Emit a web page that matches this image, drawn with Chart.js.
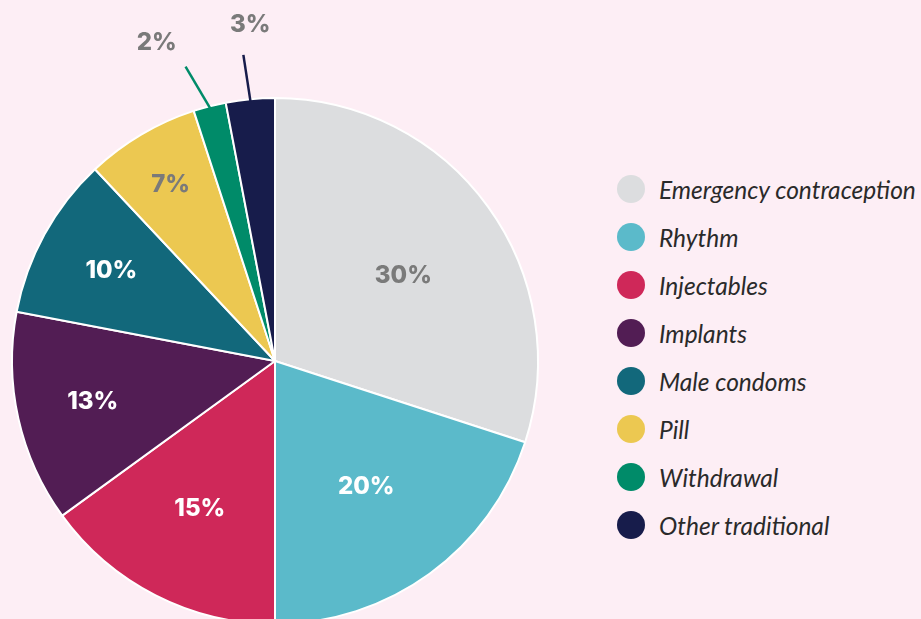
<!DOCTYPE html>
<html><head><meta charset="utf-8">
<script src="https://cdn.jsdelivr.net/npm/chart.js@4/dist/chart.umd.min.js"></script>
<style>
html,body{margin:0;padding:0;background:#fdeef5;overflow:hidden;}
#wrap{position:relative;width:921px;height:619px;overflow:hidden;background:#fdeef5;}
#cbox{position:absolute;left:1px;top:0;width:548px;height:722px;}
#legend{position:absolute;left:617px;top:165px;font-family:Lato,"Open Sans",sans-serif;font-style:italic;font-size:24.5px;color:#2a2a2a;}
#legend .row{height:48px;display:flex;align-items:center;white-space:nowrap;}
#legend .dot{width:28px;height:28px;border-radius:50%;margin-right:14px;flex:none;}
</style></head>
<body><div id="wrap"><div id="cbox"><canvas id="c"></canvas></div><div id="legend"></div></div>
<script>
const categories = ["Emergency contraception","Rhythm","Injectables","Implants","Male condoms","Pill","Withdrawal","Other traditional"];
const shares = [30,20,15,13,10,7,2,3];
const valueLabels = ["30%","20%","15%","13%","10%","7%","2%","3%"];

const colors = ["#dcdddf","#5bbaca","#cf2859","#521d54","#12687b","#ecc851","#008b69","#171c4b"];
const labelColors = ["#7a7a7a","#ffffff","#ffffff","#ffffff","#ffffff","#7a7a7a","#7a7a7a","#7a7a7a"];
const labelRadius = [0.585,0.59,0.63,0.71,0.71,0.78,1.29,1.28];
const labelAngleShift = [2.5,0,0,0,0,0,-6,1.2];
const lineAngleShift = [0,0,0,0,0,0,-2.5,-0.5];
const outside = [false,false,false,false,false,false,true,true];

const lg = document.getElementById('legend');
categories.forEach((c,i)=>{
  const r=document.createElement('div');r.className='row';
  const d=document.createElement('span');d.className='dot';d.style.background=colors[i];
  const t=document.createElement('span');t.textContent=c;
  r.appendChild(d);r.appendChild(t);lg.appendChild(r);
});

const labelPlugin = {
  id:'sliceLabels',
  afterDatasetsDraw(chart){
    const ctx=chart.ctx;
    const meta=chart.getDatasetMeta(0);
    ctx.save();
    ctx.font='800 24px Inter, "Open Sans", sans-serif';
    ctx.textAlign='center';ctx.textBaseline='middle';
    const deg=Math.PI/180;
    meta.data.forEach((arc,i)=>{
      const p=arc.getProps(['x','y','startAngle','endAngle','outerRadius'],true);
      const mid=(p.startAngle+p.endAngle)/2;
      const R=p.outerRadius;
      if(outside[i]){
        const la=mid+lineAngleShift[i]*deg;
        ctx.strokeStyle=colors[i];ctx.lineWidth=2.5;
        ctx.beginPath();
        ctx.moveTo(p.x+Math.cos(mid)*(R-2),p.y+Math.sin(mid)*(R-2));
        ctx.lineTo(p.x+Math.cos(la)*(R*1.17),p.y+Math.sin(la)*(R*1.17));
        ctx.stroke();
      }
      const ta=mid+labelAngleShift[i]*deg;
      ctx.fillStyle=labelColors[i];
      ctx.fillText(valueLabels[i],p.x+Math.cos(ta)*R*labelRadius[i],p.y+Math.sin(ta)*R*labelRadius[i]);
    });
    ctx.restore();
  }
};

new Chart(document.getElementById('c'),{
  type:'pie',
  data:{labels:categories,datasets:[{data:shares,backgroundColor:colors,borderColor:'#ffffff',borderWidth:2,hoverOffset:0}]},
  options:{
    responsive:true,maintainAspectRatio:false,animation:false,
    layout:{padding:{left:10,right:10,top:10,bottom:10}},
    plugins:{legend:{display:false},tooltip:{enabled:false}},
    events:[]
  },
  plugins:[labelPlugin]
});
</script></body></html>
